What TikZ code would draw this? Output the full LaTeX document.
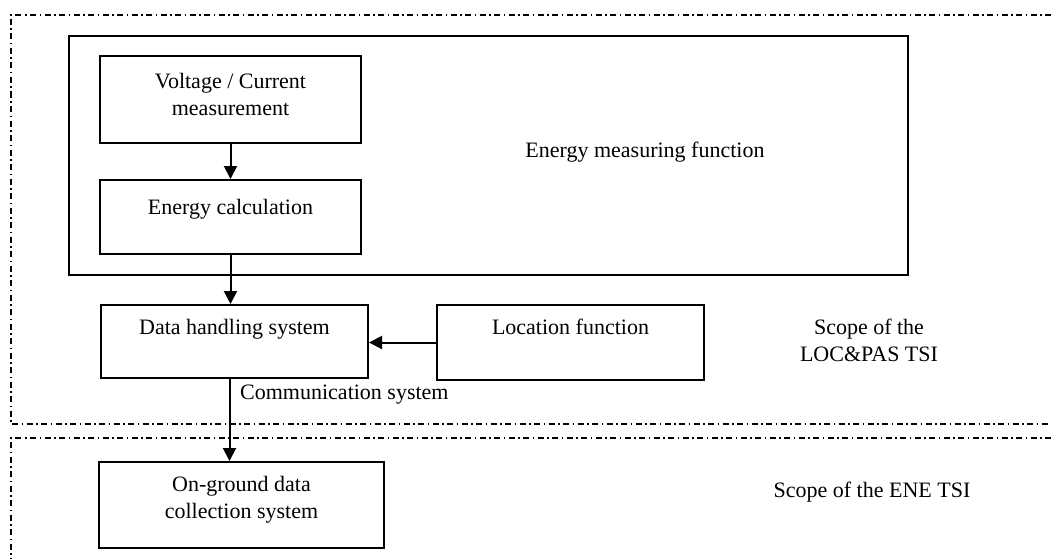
\documentclass[tikz,border=0pt]{standalone}
\usepackage{fontspec}
\setmainfont{Liberation Serif}
\usetikzlibrary{arrows.meta}

\begin{document}
\begin{tikzpicture}[x=1pt, y=-1pt,
    box/.style={draw, line width=2pt, inner sep=0pt, anchor=north west, align=center,
      font=\fontsize{22}{27}\selectfont},
    txt/.style={font=\fontsize{22}{27}\selectfont, align=center, inner sep=0pt},
    scopeline/.style={line width=1.2pt, dash pattern=on 6pt off 3.5pt on 1.5pt off 3.5pt},
    arr/.style={-{Triangle[length=13pt,width=13pt]}, line width=2pt}]
  \useasboundingbox (0,0) rectangle (1051,559);

  % scope frames
  \draw[scopeline] (1051,15) -- (11,15) -- (11,424) -- (1051,424);
  \draw[scopeline] (1051,438) -- (11,438) -- (11,559);

  \node[box, minimum width=839pt, minimum height=239pt] (emf) at (68,35) {};
  \node[txt] (emftext) at (645,152) {Energy measuring function};

  \node[box, minimum width=261pt, text height=60pt, text depth=27pt] (volt) at (99,55) {Voltage / Current\\measurement};
  \node[box, minimum width=261pt, text height=34pt, text depth=40pt] (calc) at (99,179) {Energy calculation};
  \node[box, minimum width=267pt, text height=29pt, text depth=44pt] (data) at (100,304) {Data handling system};
  \node[box, minimum width=267pt, text height=29pt, text depth=46pt] (loc) at (436,304) {Location function};
  \node[box, minimum width=285pt, text height=56pt, text depth=30pt] (ground) at (98,461) {On-ground data\\collection system};

  \node[txt, anchor=west] (comm) at (240,395) {Communication system};
  \node[txt] (locpas) at (869,340) {Scope of the\\LOC\&PAS TSI};
  \node[txt] (ene) at (872,492) {Scope of the ENE TSI};

  \draw[arr] (volt) -- (calc);
  \draw[arr] (calc.south) -- (calc.south |- data.north);
  \draw[arr] (loc.west) -- (data.east |- loc.west);
  \draw[arr] ([xshift=-5pt]data.south) -- ([xshift=-5pt]data.south |- ground.north);
\end{tikzpicture}
\end{document}
